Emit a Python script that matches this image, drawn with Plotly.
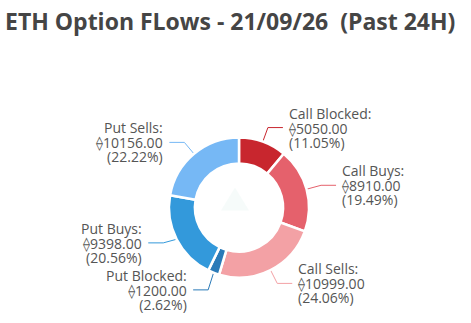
import math
import plotly.graph_objects as go

# Flow categories, clockwise from 12 o'clock
categories = ["Call Blocked", "Call Buys", "Call Sells", "Put Blocked", "Put Buys", "Put Sells"]
volumes = [5050.00, 8910.00, 10999.00, 1200.00, 9398.00, 10156.00]
percents = [11.05, 19.49, 24.06, 2.62, 20.56, 22.22]
colors = ["#C8262E", "#E5616C", "#F3A1A5", "#2A7AB8", "#3399DB", "#76B8F5"]

W, H = 471, 323
CX, CY = 239, 207.5      # ring centre, px
R_OUT = 70               # outer radius, px
HOLE = 0.63
LEN1, LEN2, GAP = 15, 15, 4
LABEL_PX = 14            # label glyph size
LINE_BASE = 11.2         # base size: plotly spaces <br> lines at 1.3 x this
MIN_SEP = 47             # minimum distance between stacked labels, px

fig = go.Figure()

fig.add_trace(go.Pie(
    labels=categories,
    values=volumes,
    hole=HOLE,
    sort=False,
    direction="clockwise",
    rotation=0,
    textinfo="none",
    hoverinfo="label+value+percent",
    marker=dict(colors=colors, line=dict(color="white", width=2.5)),
    domain=dict(
        x=[(CX - R_OUT) / W, (CX + R_OUT) / W],
        y=[(H - CY - R_OUT) / H, (H - CY + R_OUT) / H],
    ),
    showlegend=False,
))

# Leader-line geometry from each slice's mid angle
total = sum(volumes)
acc = 0.0
items = []
for name, v, p, c in zip(categories, volumes, percents, colors):
    mid = (acc + v / 2) / total * 2 * math.pi
    acc += v
    s, co = math.sin(mid), math.cos(mid)
    items.append(dict(
        name=name, v=v, p=p, c=c,
        side=1 if s >= 0 else -1,
        x0=CX + R_OUT * s, y0=CY - R_OUT * co,
        x1=CX + (R_OUT + LEN1) * s, y1=CY - (R_OUT + LEN1) * co,
    ))

# push apart labels that would collide on the same side
for side in (1, -1):
    group = sorted([it for it in items if it["side"] == side], key=lambda it: it["y1"])
    for a, b in zip(group, group[1:]):
        d = b["y1"] - a["y1"]
        if d < MIN_SEP:
            shift = (MIN_SEP - d) / 2
            a["y1"] -= shift
            b["y1"] += shift

annotations = []
for it in items:
    side = it["side"]
    x2 = it["x1"] + side * LEN2
    fig.add_trace(go.Scatter(
        x=[it["x0"], it["x1"], x2], y=[it["y0"], it["y1"], it["y1"]], mode="lines",
        line=dict(color=it["c"], width=1), hoverinfo="skip", showlegend=False,
    ))
    lines = [f"{it['name']}:", f"\u27e0{it['v']:.2f}", f"({it['p']:.2f}%)"]
    text = "<br>".join(f"<span style='font-size:{LABEL_PX}px'>{t}</span>" for t in lines)
    annotations.append(dict(
        x=x2 + side * GAP, y=it["y1"], xref="x", yref="y",
        text=text, showarrow=False,
        xanchor="left" if side > 0 else "right", yanchor="middle",
        align="left" if side > 0 else "right",
        font=dict(family="Open Sans, DejaVu Sans, sans-serif", size=LINE_BASE, color="#555555"),
    ))

annotations.append(dict(
    x=3, y=21, xref="x", yref="y", xanchor="left", yanchor="middle",
    text="<b>ETH Option FLows - 21/09/26  (Past 24H)</b>",
    showarrow=False,
    font=dict(family="Open Sans, sans-serif", size=23, color="#454545"),
))

# faint centre mark
tri = dict(type="path", xref="x", yref="y",
           path=f"M {CX-4},{CY-20} L {CX+10},{CY+3} L {CX-18},{CY+3} Z",
           fillcolor="rgba(205,232,230,0.18)", line=dict(width=0), layer="above")

fig.update_layout(
    width=W, height=H,
    margin=dict(l=0, r=0, t=0, b=0),
    paper_bgcolor="white", plot_bgcolor="rgba(0,0,0,0)",
    xaxis=dict(range=[0, W], visible=False, fixedrange=True),
    yaxis=dict(range=[H, 0], visible=False, fixedrange=True),
    annotations=annotations,
    shapes=[tri],
)

fig.write_html("out.html")
